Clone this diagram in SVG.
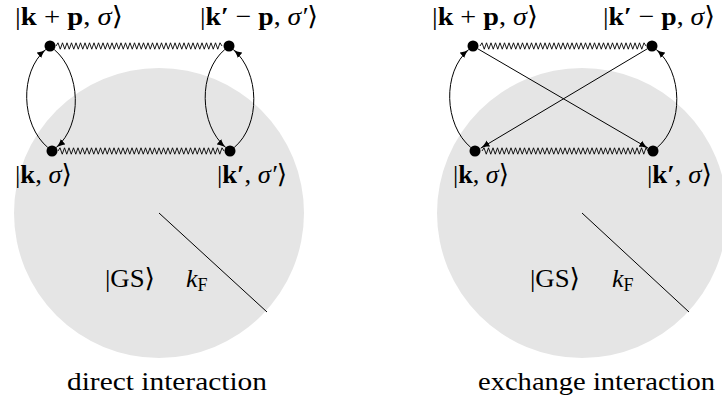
<svg xmlns="http://www.w3.org/2000/svg" xmlns:xlink="http://www.w3.org/1999/xlink" width="722" height="401" viewBox="0 0 722 401">
<style>
.bg{fill:#e5e5e5;stroke:none}
.ln{fill:none;stroke:#000;stroke-width:1}
.sp{fill:none;stroke:#000;stroke-width:0.9;stroke-linejoin:miter}
.ar{fill:none;stroke:#000;stroke-width:1;marker-end:url(#ah)}
.dot{fill:#000}
.t{font-family:"Liberation Serif","Times New Roman","DejaVu Serif",serif;font-size:26px;fill:#000}
.b{font-weight:bold}
.i{font-style:italic}
.sub{font-size:18px}
</style>
<defs>
<marker id="ah" markerUnits="userSpaceOnUse" markerWidth="10" markerHeight="8" refX="9" refY="4" orient="auto">
<path d="M0,0.5 C3,2.5 6,3.5 9,4 C6,4.5 3,5.5 0,7.5 Z" fill="#000"/>
</marker>
<path id="spring" d="M0,0 l2,-3.2 2.25,6.4 2.25,-6.4 2.25,6.4 2.25,-6.4 2.25,6.4 2.25,-6.4 2.25,6.4 2.25,-6.4 2.25,6.4 2.25,-6.4 2.25,6.4 2.25,-6.4 2.25,6.4 2.25,-6.4 2.25,6.4 2.25,-6.4 2.25,6.4 2.25,-6.4 2.25,6.4 2.25,-6.4 2.25,6.4 2.25,-6.4 2.25,6.4 2.25,-6.4 2.25,6.4 2.25,-6.4 2.25,6.4 2.25,-6.4 2.25,6.4 2.25,-6.4 2.25,6.4 2.25,-6.4 2.25,6.4 2.25,-6.4 2.25,6.4 2.25,-6.4 2.25,6.4 2.25,-6.4 2.25,6.4 2.25,-6.4 2.25,6.4 2.25,-6.4 2.25,6.4 2.25,-6.4 2.25,6.4 2.25,-6.4 2.25,6.4 2.25,-6.4 2.25,6.4 2.25,-6.4 2.25,6.4 2.25,-6.4 2.25,6.4 2.25,-6.4 2.25,6.4 2.25,-6.4 2.25,6.4 2.25,-6.4 2.25,6.4 2.25,-6.4 2.25,6.4 2.25,-6.4 2.25,6.4 2.25,-6.4 2.25,6.4 2.25,-6.4 2.25,6.4 2.25,-6.4 2.25,6.4 2.25,-6.4 2.25,6.4 2.25,-6.4 2,3.2"/>
</defs>

<g id="fermi-sea-left">
<circle class="bg" cx="159" cy="213" r="145"/>
<line class="ln" x1="159" y1="213" x2="267" y2="312"/>
</g>
<g id="fermi-sea-right">
<circle class="bg" cx="582" cy="213" r="145"/>
<line class="ln" x1="582" y1="213" x2="689" y2="312"/>
</g>

<g id="connectors">
<use xlink:href="#spring" href="#spring" class="sp" x="56" y="46"/>
<use xlink:href="#spring" href="#spring" class="sp" x="58" y="151"/>
<use xlink:href="#spring" href="#spring" class="sp" x="480" y="46"/>
<use xlink:href="#spring" href="#spring" class="sp" x="482" y="151"/>
<path class="ar" d="M47.8,147.5 C21,125 19,72 45.8,49.5"/>
<path class="ar" d="M54.2,49.5 C81,72 83,125 56.2,147.5"/>
<path class="ar" d="M224.8,49.5 C198,72 199,125 225.8,147.5"/>
<path class="ar" d="M234.2,147.5 C261,125 260,72 233.2,49.5"/>
<path class="ar" d="M470.8,147.5 C444,125 442,72 468.8,49.5"/>
<path class="ar" d="M657.2,147.5 C684,125 683,72 656.2,49.5"/>
<path class="ar" d="M477.8,48.8 L648.2,148.2"/>
<path class="ar" d="M647.3,48.8 L480.7,148.2"/>
</g>

<g id="node-kp-left"><circle class="dot" cx="50" cy="46" r="5.5"/></g>
<g id="node-kmp-left"><circle class="dot" cx="229" cy="46" r="5.5"/></g>
<g id="node-k-left"><circle class="dot" cx="52" cy="151" r="5.5"/></g>
<g id="node-kpr-left"><circle class="dot" cx="230" cy="151" r="5.5"/></g>
<g id="node-kp-right"><circle class="dot" cx="473" cy="46" r="5.5"/></g>
<g id="node-kmp-right"><circle class="dot" cx="652" cy="46" r="5.5"/></g>
<g id="node-k-right"><circle class="dot" cx="475" cy="151" r="5.5"/></g>
<g id="node-kpr-right"><circle class="dot" cx="653" cy="151" r="5.5"/></g>

<g id="labels-left">
<text class="t" x="15" y="25" textLength="108" lengthAdjust="spacingAndGlyphs">|<tspan class="b">k</tspan> + <tspan class="b">p</tspan>, <tspan class="i">σ</tspan>⟩</text>
<text class="t" x="200" y="25" textLength="118" lengthAdjust="spacingAndGlyphs">|<tspan class="b">k′</tspan> − <tspan class="b">p</tspan>, <tspan class="i">σ′</tspan>⟩</text>
<text class="t" x="15" y="183" textLength="57" lengthAdjust="spacingAndGlyphs">|<tspan class="b">k</tspan>, <tspan class="i">σ</tspan>⟩</text>
<text class="t" x="217" y="183" textLength="70" lengthAdjust="spacingAndGlyphs">|<tspan class="b">k′</tspan>, <tspan class="i">σ′</tspan>⟩</text>
<text class="t" x="105" y="287" textLength="50" lengthAdjust="spacingAndGlyphs">|GS⟩</text>
<text class="t" x="186" y="287"><tspan class="i">k</tspan><tspan class="sub" dy="4">F</tspan></text>
<text class="t" x="67" y="390" textLength="200" lengthAdjust="spacingAndGlyphs">direct interaction</text>
</g>
<g id="labels-right">
<text class="t" x="432" y="25" textLength="106" lengthAdjust="spacingAndGlyphs">|<tspan class="b">k</tspan> + <tspan class="b">p</tspan>, <tspan class="i">σ</tspan>⟩</text>
<text class="t" x="603" y="25" textLength="112" lengthAdjust="spacingAndGlyphs">|<tspan class="b">k′</tspan> − <tspan class="b">p</tspan>, <tspan class="i">σ</tspan>⟩</text>
<text class="t" x="453" y="183" textLength="56" lengthAdjust="spacingAndGlyphs">|<tspan class="b">k</tspan>, <tspan class="i">σ</tspan>⟩</text>
<text class="t" x="647" y="183" textLength="65" lengthAdjust="spacingAndGlyphs">|<tspan class="b">k′</tspan>, <tspan class="i">σ</tspan>⟩</text>
<text class="t" x="530" y="287" textLength="50" lengthAdjust="spacingAndGlyphs">|GS⟩</text>
<text class="t" x="612" y="287"><tspan class="i">k</tspan><tspan class="sub" dy="4">F</tspan></text>
<text class="t" x="478" y="390" textLength="237" lengthAdjust="spacingAndGlyphs">exchange interaction</text>
</g>
</svg>
